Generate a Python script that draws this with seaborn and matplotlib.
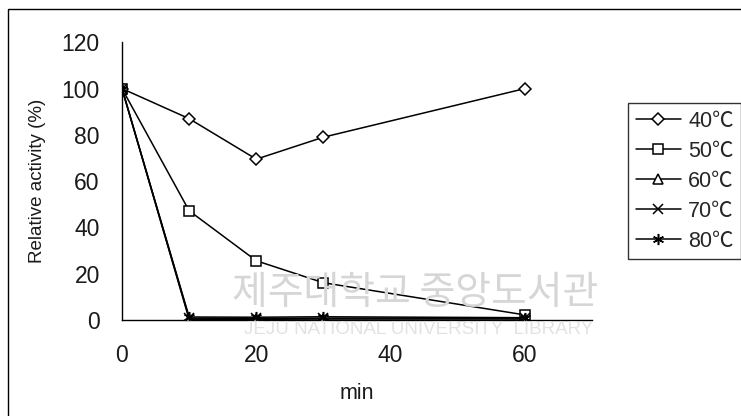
import matplotlib
matplotlib.use("Agg")
import matplotlib.pyplot as plt
import seaborn as sns
import pandas as pd
from matplotlib.patches import Rectangle

# ---- data ----
time_min = [0, 10, 20, 30, 60]
labels = ["40℃", "50℃", "60℃", "70℃", "80℃"]
act_40 = [100, 87, 69.5, 79, 100]
act_50 = [100, 47.2, 25.6, 16.1, 2.2]
act_60 = [100, 0.3, 0.3, 0.4, 0.4]
act_70 = [100, 0.8, 0.7, 0.8, 0.8]
act_80 = [100, 1.3, 1.2, 1.4, 1.0]
series = [act_40, act_50, act_60, act_70, act_80]
x_ticks = [0, 20, 40, 60]
y_ticks = [0, 20, 40, 60, 80, 100, 120]

rows = []
for lab, vals in zip(labels, series):
    for t, v in zip(time_min, vals):
        rows.append({"min": t, "activity": v, "temp": lab})
df = pd.DataFrame(rows)

sns.set_theme(style="white")
plt.rcParams["font.family"] = ["Liberation Sans", "Noto Sans CJK KR", "DejaVu Sans"]

W, H = 741, 416
fig = plt.figure(figsize=(W / 100, H / 100), dpi=100)
ax = fig.add_axes([122 / W, 1 - 320 / H, (592 - 122) / W, (320 - 42.3) / H])

# watermark (faint)
fig.text(415 / W, 1 - 293 / H, "제주대학교 중앙도서관", fontsize=28, color="#d6d6d6",
         ha="center", va="center", family=["Noto Sans CJK KR", "DejaVu Sans"], zorder=0)
fig.text(419 / W, 1 - 330 / H, "JEJU NATIONAL UNIVERSITY  LIBRARY", fontsize=13.5, color="#e2e2e2",
         ha="center", va="center", family=["Liberation Sans", "DejaVu Sans"], zorder=0)

marker_map = {"40℃": "D", "50℃": "s", "60℃": "^", "70℃": "x", "80℃": (6, 2, 0)}
size_map = {"40℃": 6, "50℃": 7.5, "60℃": 7, "70℃": 7, "80℃": 8}
for lab in labels:
    sub = df[df["temp"] == lab]
    sns.lineplot(data=sub, x="min", y="activity", ax=ax, color="black", linewidth=1.1,
                 marker=marker_map[lab], markersize=size_map[lab], markerfacecolor="white",
                 markeredgecolor="black", markeredgewidth=1.1, label=lab, zorder=3)

ax.patch.set_alpha(0)
ax.set_xlim(0, 70)
ax.set_ylim(0, 120)
ax.set_xticks(x_ticks)
ax.set_yticks(y_ticks)
for s in ["top", "right"]:
    ax.spines[s].set_visible(False)
for s in ["left", "bottom"]:
    ax.spines[s].set_color("black")
    ax.spines[s].set_linewidth(1.0)
ax.tick_params(axis="both", direction="in", length=6, width=1, color="black",
               labelsize=16.5, labelcolor="#1a1a1a")
ax.tick_params(axis="y", pad=16)
ax.tick_params(axis="x", pad=17)
ax.set_xlabel("min", fontsize=15.5, labelpad=12, color="#1a1a1a")
ax.set_ylabel("Relative activity (%)", fontsize=13.5, labelpad=11, color="#1a1a1a")

leg = ax.legend(loc="upper left", bbox_to_anchor=(628 / W, 1 - 103 / H),
                bbox_transform=fig.transFigure, frameon=True, fancybox=False,
                fontsize=15.5, handlelength=2.1, handletextpad=0.35, labelspacing=0.42,
                borderpad=0.35, borderaxespad=0)
leg.get_frame().set_edgecolor("black")
leg.get_frame().set_linewidth(1.0)

# outer frame
fig.patches.append(Rectangle((8 / W, -0.1), 1.2, 1 - 9 / H + 0.1, transform=fig.transFigure,
                             fill=False, edgecolor="black", linewidth=1.0, zorder=10))

fig.savefig("out.png", dpi=100)
